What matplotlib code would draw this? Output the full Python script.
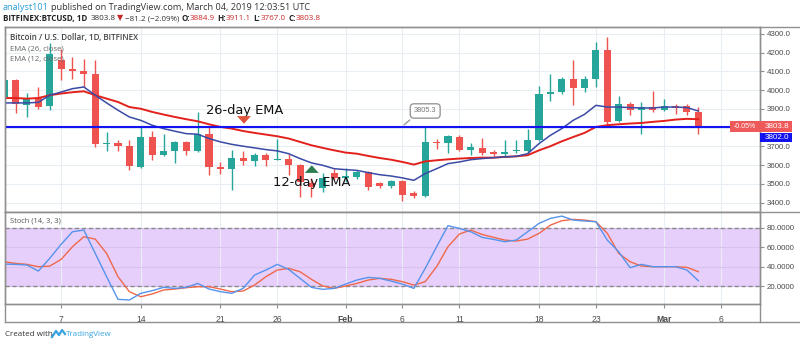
import matplotlib

matplotlib.use("Agg")
import matplotlib.pyplot as plt
from matplotlib.lines import Line2D
from matplotlib.patches import Rectangle

# day number counted from Dec 31 2018 (2 = Jan 2, 32 = Feb 1, 60 = Mar 1)
days = list(range(2, 64))

opens = [3964, 4053, 3923, 3958, 3914, 4159, 4115, 4103, 4085, 3715,
         3718, 3704, 3590, 3750, 3655, 3676, 3724, 3676, 3765, 3590,
         3581, 3638, 3622, 3652, 3629, 3633, 3601, 3503, 3476, 3556,
         3530, 3535, 3565, 3503, 3489, 3515, 3453, 3437, 3722, 3718,
         3750, 3683, 3693, 3668, 3658, 3674, 3676, 3733, 3978, 3990,
         4062, 4012, 4062, 4213, 3834, 3925, 3896, 3910, 3893, 3916,
         3914, 3884.9]
highs = [4075, 4062, 3987, 4017, 4250, 4222, 4177, 4168, 4159, 3777,
         3733, 3733, 3804, 3782, 3765, 3728, 3730, 3884, 3804, 3617,
         3683, 3676, 3665, 3665, 3741, 3661, 3608, 3530, 3556, 3578,
         3583, 3575, 3570, 3510, 3520, 3520, 3460, 3804, 3741, 3760,
         3760, 3718, 3745, 3683, 3733, 3733, 3795, 4021, 4088, 4071,
         4159, 4074, 4257, 4284, 3967, 3937, 3937, 3995, 3955, 3925,
         3925, 3911.1]
lows = [3940, 3880, 3857, 3901, 3893, 4053, 4062, 4017, 3697, 3676,
        3676, 3576, 3585, 3630, 3647, 3612, 3653, 3670, 3549, 3551,
        3466, 3599, 3594, 3594, 3625, 3546, 3432, 3432, 3459, 3520,
        3510, 3525, 3470, 3478, 3478, 3411, 3425, 3432, 3688, 3665,
        3676, 3653, 3653, 3647, 3647, 3667, 3665, 3729, 3942, 3982,
        3919, 3990, 4017, 3813, 3830, 3866, 3765, 3884, 3890, 3871,
        3866, 3767.0]
closes = [4053, 3928, 3955, 3910, 4195, 4115, 4103, 4085, 3715, 3720,
          3700, 3594, 3750, 3656, 3676, 3724, 3676, 3765, 3590, 3581,
          3638, 3622, 3652, 3629, 3633, 3599, 3512, 3485, 3530, 3530,
          3540, 3565, 3485, 3489, 3517, 3441, 3437, 3725, 3716, 3754,
          3679, 3697, 3665, 3658, 3672, 3683, 3736, 3982, 3990, 4062,
          4012, 4062, 4213, 3831, 3925, 3896, 3910, 3893, 3914, 3903,
          3884.9, 3803.8]

ema26 = [3958, 3958, 3955, 3958, 3973, 3982, 3989, 3994, 3973, 3955,
         3937, 3910, 3901, 3884, 3870, 3857, 3845, 3834, 3818, 3804,
         3795, 3782, 3772, 3763, 3754, 3742, 3724, 3706, 3692, 3679,
         3667, 3661, 3649, 3638, 3629, 3617, 3603, 3620, 3626, 3631,
         3635, 3638, 3640, 3640, 3644, 3647, 3653, 3679, 3701, 3727,
         3750, 3772, 3804, 3813, 3818, 3822, 3825, 3831, 3836, 3843,
         3847, 3845]
ema12 = [3932, 3932, 3932, 3935, 3973, 3990, 4008, 4017, 3973, 3932,
         3893, 3857, 3839, 3813, 3795, 3781, 3768, 3765, 3742, 3724,
         3711, 3701, 3692, 3683, 3676, 3661, 3635, 3612, 3599, 3581,
         3576, 3572, 3560, 3549, 3542, 3532, 3519, 3555, 3581, 3608,
         3617, 3629, 3635, 3640, 3644, 3647, 3661, 3715, 3759, 3795,
         3839, 3871, 3919, 3910, 3910, 3907, 3905, 3905, 3910, 3910,
         3907, 3889]

stoch_k = [42.6, 42.3, 41.6, 35.4, 48.5, 62.9, 75.9, 77.6, 53.6, 29.6,
           6.3, 5.6, 12.5, 15.2, 18.6, 17.6, 18.6, 22.7, 16.9, 14.2,
           12.5, 17.6, 31.3, 36.5, 42.3, 37.1, 27.9, 18.6, 16.6, 17.6,
           22.0, 26.2, 28.9, 27.9, 25.1, 22.0, 17.6, 38.2, 60.5, 82.1,
           79.3, 75.9, 70.1, 68.0, 65.6, 67.3, 75.9, 84.5, 89.6, 92.0,
           87.9, 86.9, 86.2, 67.3, 55.3, 38.9, 42.3, 39.9, 39.9, 39.9,
           36.5, 25.5]
stoch_d = [45.0, 43.3, 42.3, 39.9, 40.5, 47.4, 60.5, 70.7, 68.3, 53.6,
           29.6, 14.2, 9.0, 11.8, 15.9, 16.9, 18.3, 19.3, 19.3, 16.9,
           14.2, 14.9, 21.0, 29.6, 36.5, 38.2, 34.7, 26.9, 20.0, 17.6,
           20.0, 22.7, 26.2, 27.9, 26.9, 24.5, 21.0, 24.5, 39.9, 60.5,
           73.5, 77.6, 73.1, 70.1, 67.3, 66.3, 68.3, 74.2, 82.7, 87.2,
           88.6, 87.9, 86.2, 74.2, 53.6, 45.0, 40.6, 39.9, 39.9, 39.9,
           39.2, 34.7]

tick_days = [7, 14, 21, 26, 32, 37, 42, 49, 54, 60, 65]
tick_labels = ["7", "14", "21", "26", "Feb", "6", "11", "18", "23", "Mar", "6"]
price_ticks = [3400, 3500, 3600, 3700, 3800, 3900, 4000, 4100, 4200, 4300]
stoch_ticks = [20, 40, 60, 80]
hline_price = 3802.0
callout_price = 3805.3
last_close = 3803.8

UP = "#26a69a"
DOWN = "#ef5350"
GRID = "#e9eef4"
FRAME = "#8f8f8f"
TXT = "#4a4a4a"
UI = ["Open Sans", "DejaVu Sans"]
NUM = ["Liberation Sans", "DejaVu Sans"]

W, H = 800, 344
fig = plt.figure(figsize=(W / 100, H / 100), dpi=100)
fig.patch.set_facecolor("white")


def rect(x0, y0, x1, y1):
    return [x0 / W, 1 - y1 / H, (x1 - x0) / W, (y1 - y0) / H]


def fx(px):
    return px / W


def fy(py):
    return 1 - py / H


ax = fig.add_axes(rect(5, 27, 760, 212))
axs = fig.add_axes(rect(5, 212, 760, 304), sharex=ax)

# candles
for d, o, h, l, c in zip(days, opens, highs, lows, closes):
    col = UP if c >= o else DOWN
    ax.vlines(d, l, h, color=col, lw=1.0, zorder=3)
    ax.bar(d, max(abs(c - o), 3), bottom=min(o, c), width=0.62, color=col, lw=0, zorder=4)

ax.plot(days, ema26, color="#e3211c", lw=1.4, zorder=5)
ax.plot(days, ema12, color="#3a4aa6", lw=1.1, zorder=5)
ax.axhline(hline_price, color="#1414f0", lw=1.5, zorder=6)

ax.set_xlim(2.07, 68.42)
ax.set_ylim(3350, 4337)
# the 3800 label sits under the last-price tag, as on the original
price_labels = ["" if abs(v - last_close) < 30 else f"{v:.1f}" for v in price_ticks]
ax.set_yticks(price_ticks, price_labels)
ax.yaxis.tick_right()
ax.set_xticks(tick_days)
ax.tick_params(axis="x", length=0, labelbottom=False)
ax.tick_params(axis="y", length=3, width=0.8, color=FRAME, labelsize=5.7, labelcolor=TXT, pad=2)
for lbl in ax.get_yticklabels():
    lbl.set_family(NUM)
ax.grid(True, color=GRID, lw=0.8, zorder=0)

# stochastic panel
axs.axhspan(20, 80, color="#e7cffc", lw=0, zorder=0)
for lvl in (20, 80):
    axs.axhline(lvl, color="#8a8a8a", lw=1.0, ls=(0, (3, 2)), zorder=2)
axs.plot(days, stoch_d, color="#f0684a", lw=1.0, zorder=4)
axs.plot(days, stoch_k, color="#5693ea", lw=1.0, zorder=5)
axs.set_ylim(1.5, 96.2)
axs.set_yticks(stoch_ticks, [f"{v:.4f}" for v in stoch_ticks])
axs.yaxis.tick_right()
axs.set_xticks(tick_days, tick_labels)
axs.tick_params(axis="y", length=3, width=0.8, color=FRAME, labelsize=5.7, labelcolor=TXT, pad=2)
axs.tick_params(axis="x", length=3, width=0.8, color=FRAME, labelsize=6.2, labelcolor=TXT, pad=5)
for lbl in axs.get_yticklabels():
    lbl.set_family(NUM)
for lbl in axs.get_xticklabels():
    lbl.set_family(NUM)
    if lbl.get_text() in ("Feb", "Mar"):
        lbl.set_fontweight("bold")
axs.grid(True, color=GRID, lw=0.8, zorder=1)
axs.grid(True, axis="y", color="#d9c2f0", lw=0.8, zorder=1)

for a in (ax, axs):
    for s in a.spines.values():
        s.set_color(FRAME)
        s.set_linewidth(1.0)

# outer frame lines
for x0, y0, x1, y1 in [(5, 27, 800, 27), (5, 212, 800, 212), (5, 322, 800, 322),
                       (5, 304, 760, 304), (5, 27, 5, 322), (760, 27, 760, 322)]:
    fig.add_artist(Line2D([fx(x0), fx(x1)], [fy(y0), fy(y1)], color=FRAME, lw=1.0))

# annotations
ax.text(19.74, 3894, "26-day EMA", fontsize=9.4, va="center", ha="left", color="#111",
        family="DejaVu Sans", zorder=8)
ax.annotate("", xy=(23.07, 3806), xytext=(23.07, 3862),
            arrowprops=dict(arrowstyle="simple,head_length=0.55,head_width=1.0,tail_width=0.5",
                            fc="#e0553d", ec="none", mutation_scale=10), zorder=8)
ax.text(25.62, 3510, "12-day EMA", fontsize=9.4, va="center", ha="left", color="#111",
        family="DejaVu Sans", zorder=8)
ax.annotate("", xy=(29.03, 3614), xytext=(29.03, 3552),
            arrowprops=dict(arrowstyle="simple,head_length=0.55,head_width=1.0,tail_width=0.5",
                            fc="#2e7d50", ec="none", mutation_scale=10), zorder=8)
ax.annotate(f"{callout_price:.1f}", xy=(36.95, callout_price), xytext=(39.0, 3889),
            fontsize=5.3, color="#777", ha="center", va="center", family=NUM, zorder=9,
            bbox=dict(boxstyle="round,pad=0.5", fc="white", ec="#999", lw=1.0),
            arrowprops=dict(arrowstyle="-", color="#999", lw=1.0, relpos=(0.1, 0.0)))

# last price / line price labels on the scale
fig.canvas.draw()
to_fig = fig.transFigure.inverted()
y_last = to_fig.transform(ax.transData.transform((0, last_close)))[1]
fig.add_artist(Rectangle((fx(730), y_last - 5.5 / H), fx(62), 11 / H, color="#ee5a5a", lw=0,
                         transform=fig.transFigure, zorder=10))
fig.text(fx(745), y_last, "-0.05%", color="white", fontsize=5, ha="center", va="center",
         family=NUM, zorder=11)
fig.text(fx(777), y_last, f"{last_close:.1f}", color="white", fontsize=5.8, ha="center",
         va="center", family=NUM, zorder=11)
y_h = y_last - 11 / H
fig.add_artist(Rectangle((fx(760), y_h - 4.5 / H), fx(32), 9 / H, color="#1212f0",
                         lw=0, transform=fig.transFigure, zorder=10))
fig.text(fx(777), y_h, f"{hline_price:.1f}", color="white", fontsize=5.8, ha="center",
         va="center", family=NUM, zorder=11)

# panel captions
fig.text(fx(10), fy(37.5), "Bitcoin / U.S. Dollar, 1D, BITFINEX", fontsize=5.8, fontweight="semibold",
         color="#444", va="center", family=UI)
fig.text(fx(10), fy(48.5), "EMA (26, close)", fontsize=5.6, color="#666", va="center", family=UI)
fig.text(fx(10), fy(59), "EMA (12, close)", fontsize=5.6, color="#666", va="center", family=UI)
fig.text(fx(10), fy(221), "Stoch (14, 3, 3)", fontsize=5.4, color="#555", va="center", family=UI)


def put_row(x_px, y_px, parts, size):
    r = fig.canvas.get_renderer()
    x = x_px
    for text, color, weight, gap in parts:
        t = fig.text(fx(x), fy(y_px), text, color=color, fontsize=size, fontweight=weight,
                     va="center", ha="left", family=UI)
        x += t.get_window_extent(renderer=r).width + gap


DK = "#333"
RED = "#c62828"
put_row(3, 7.3, [("analyst101", "#2b9ed8", "normal", 2.5),
                 ("published on TradingView.com, March 04, 2019 12:03:51 UTC", DK, "normal", 0)], 6.6)
put_row(3, 18.5, [("BITFINEX:BTCUSD, 1D", "#222", "bold", 3),
                  ("3803.8", DK, "normal", 1.5),
                  ("▼", RED, "normal", 1.5),
                  ("−81.2 (−2.09%)", DK, "normal", 2.5),
                  ("O:", "#222", "bold", 0), ("3884.9", RED, "normal", 2.5),
                  ("H:", "#222", "bold", 0), ("3911.1", RED, "normal", 2.5),
                  ("L:", "#222", "bold", 0), ("3767.0", RED, "normal", 2.5),
                  ("C:", "#222", "bold", 0), ("3803.8", RED, "normal", 0)], 5.8)

# footer
fig.text(fx(5), fy(334), "Created with", fontsize=5.8, color="#333", va="center", family=UI)
fig.add_artist(Line2D([fx(52), fx(56), fx(59), fx(62), fx(65)],
                      [fy(337), fy(331), fy(335), fy(330), fy(334)],
                      color="#36a3e0", lw=1.6))
fig.text(fx(66), fy(334), "TradingView", fontsize=5.8, color="#36a3e0", va="center", family=UI)

fig.savefig("out.png", dpi=100)
plt.close(fig)
